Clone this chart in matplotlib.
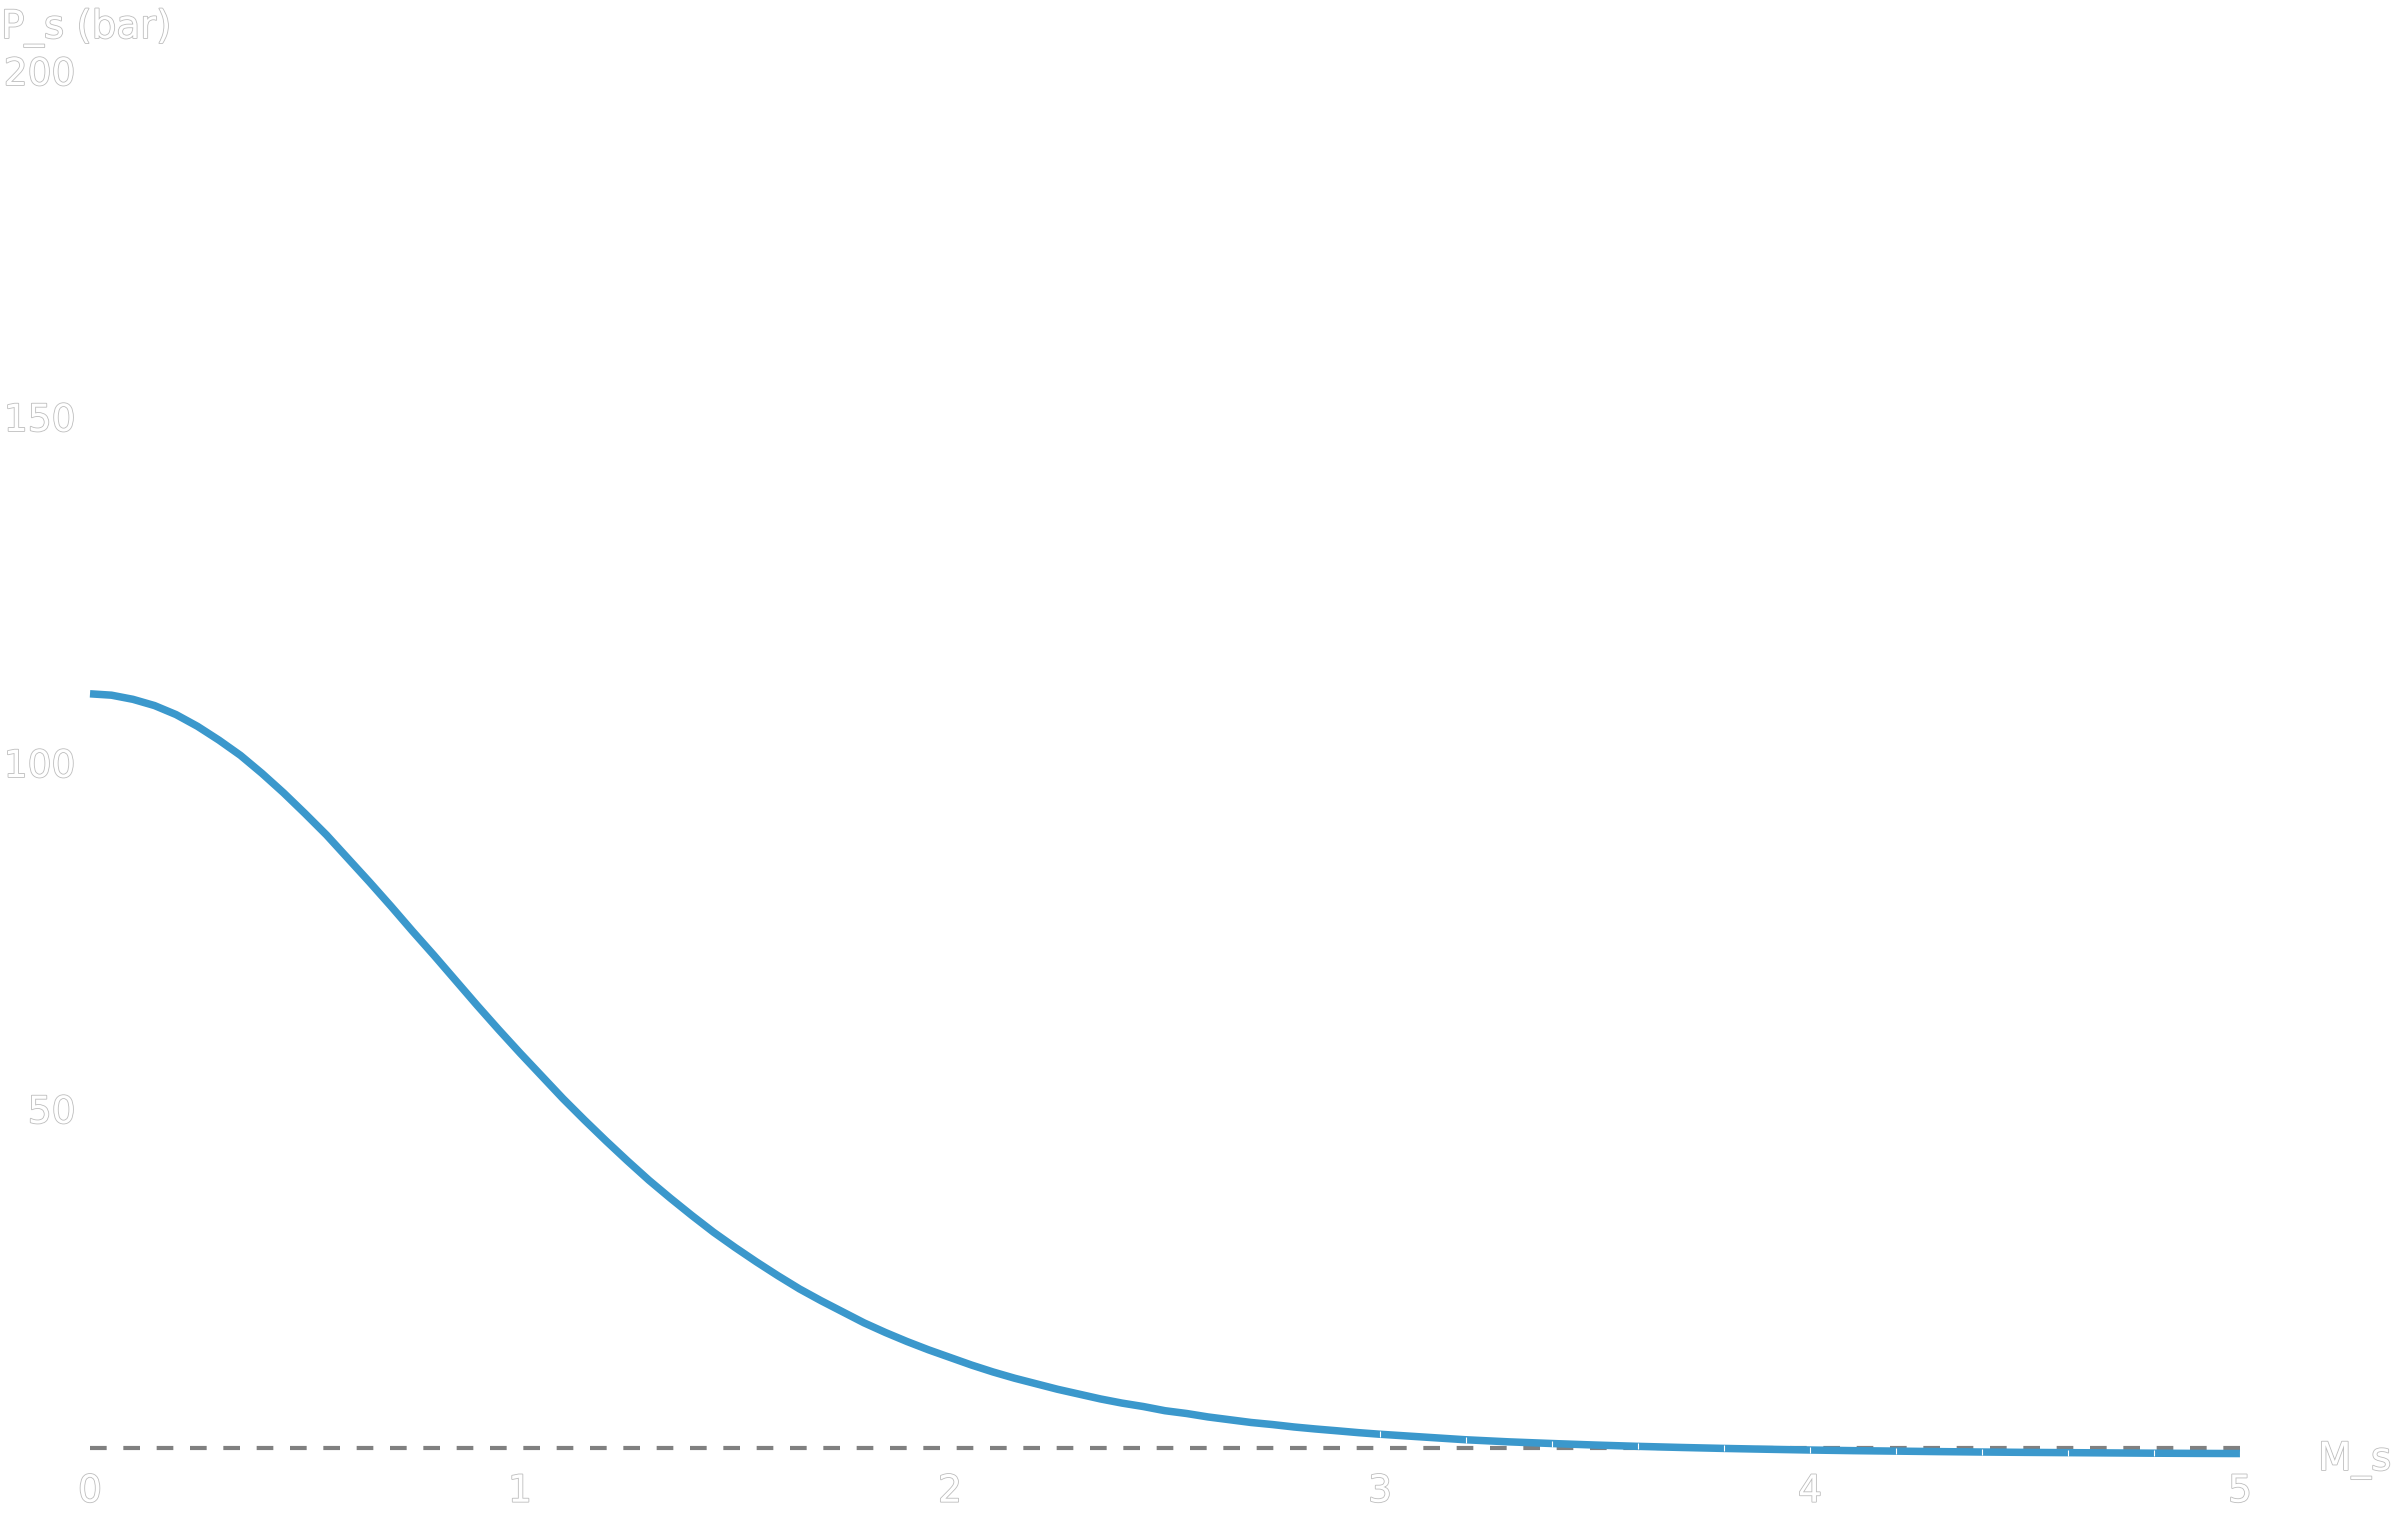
import matplotlib as mpl
mpl.use('Agg')
import matplotlib.pyplot as plt
import matplotlib.patheffects as pe

# Mach number along the nozzle and static pressure
mach = [0.0, 0.05, 0.1, 0.15, 0.2, 0.25, 0.3, 0.35, 0.4, 0.45,
        0.5, 0.55, 0.6, 0.65, 0.7, 0.75, 0.8, 0.85, 0.9, 0.95,
        1.0, 1.05, 1.1, 1.15, 1.2, 1.25, 1.3, 1.35, 1.4, 1.45,
        1.5, 1.55, 1.6, 1.65, 1.7, 1.75, 1.8, 1.85, 1.9, 1.95,
        2.0, 2.05, 2.1, 2.15, 2.2, 2.25, 2.3, 2.35, 2.4, 2.45,
        2.5, 2.55, 2.6, 2.65, 2.7, 2.75, 2.8, 2.85, 2.9, 2.95,
        3.0, 3.1, 3.2, 3.3, 3.4, 3.5, 3.6, 3.7, 3.8, 3.9,
        4.0, 4.1, 4.2, 4.3, 4.4, 4.5, 4.6, 4.7, 4.8, 4.9, 5.0]
p_static = [110.0, 109.8, 109.2, 108.3, 107.0, 105.3, 103.3, 101.1, 98.5, 95.7,
            92.7, 89.6, 86.2, 82.8, 79.3, 75.7, 72.2, 68.6, 65.0, 61.5,
            58.1, 54.8, 51.5, 48.4, 45.4, 42.5, 39.7, 37.1, 34.6, 32.2,
            30.0, 27.9, 25.9, 24.0, 22.3, 20.7, 19.1, 17.7, 16.4, 15.2,
            14.1, 13.0, 12.0, 11.1, 10.3, 9.5, 8.8, 8.1, 7.5, 7.0,
            6.4, 6.0, 5.5, 5.1, 4.7, 4.4, 4.05, 3.76, 3.5, 3.23,
            3.0, 2.6, 2.2, 1.9, 1.66, 1.44, 1.25, 1.09, 0.95, 0.83,
            0.72, 0.63, 0.56, 0.49, 0.43, 0.38, 0.34, 0.30, 0.26, 0.23, 0.21]
p_ambient = 1.0

xticks = [0, 1, 2, 3, 4, 5]
yticks = [50, 100, 150, 200]

outline = [pe.withStroke(linewidth=1.2, foreground='#bdbdbd')]

fig = plt.figure(figsize=(24, 15.21), dpi=100, facecolor='white')
ax = fig.add_axes([90 / 2400, 66 / 1521, 2150 / 2400, 1384 / 1521])
ax.set_xlim(0, 5)
ax.set_ylim(0, 200)
for s in ax.spines.values():
    s.set_visible(False)

ax.plot([mach[0], mach[-1]], [p_ambient, p_ambient], color='#808080', lw=3,
        linestyle=(0, (4, 4)), clip_on=False, zorder=2)
ax.plot(mach, p_static, color='#3b98cc', lw=5.4, solid_capstyle='butt',
        clip_on=False, zorder=3)
# thin white seams on the flat tail of the curve
tail = mach.index(3.0)
ax.plot(mach[tail::2], p_static[tail::2], linestyle='none', marker='|',
        color='white', markersize=4, markeredgewidth=0.8, clip_on=False,
        zorder=4)

ax.set_xticks(xticks)
ax.set_yticks(yticks)
ax.tick_params(axis='x', length=0, pad=13.5, labelsize=27, labelcolor='white')
ax.tick_params(axis='y', length=0, pad=10.5, labelsize=27, labelcolor='white')
for lab in ax.get_xticklabels() + ax.get_yticklabels():
    lab.set_path_effects(outline)

fig.text(1 / 2400, 1 - 38 / 1521, 'P_s (bar)', fontsize=28, color='white',
         va='baseline', ha='left', path_effects=outline)
fig.text(2318 / 2400, 1 - 1470 / 1521, 'M_s', fontsize=28, color='white',
         va='baseline', ha='left', path_effects=outline)

fig.savefig('out.png', dpi=100, facecolor=fig.get_facecolor())
